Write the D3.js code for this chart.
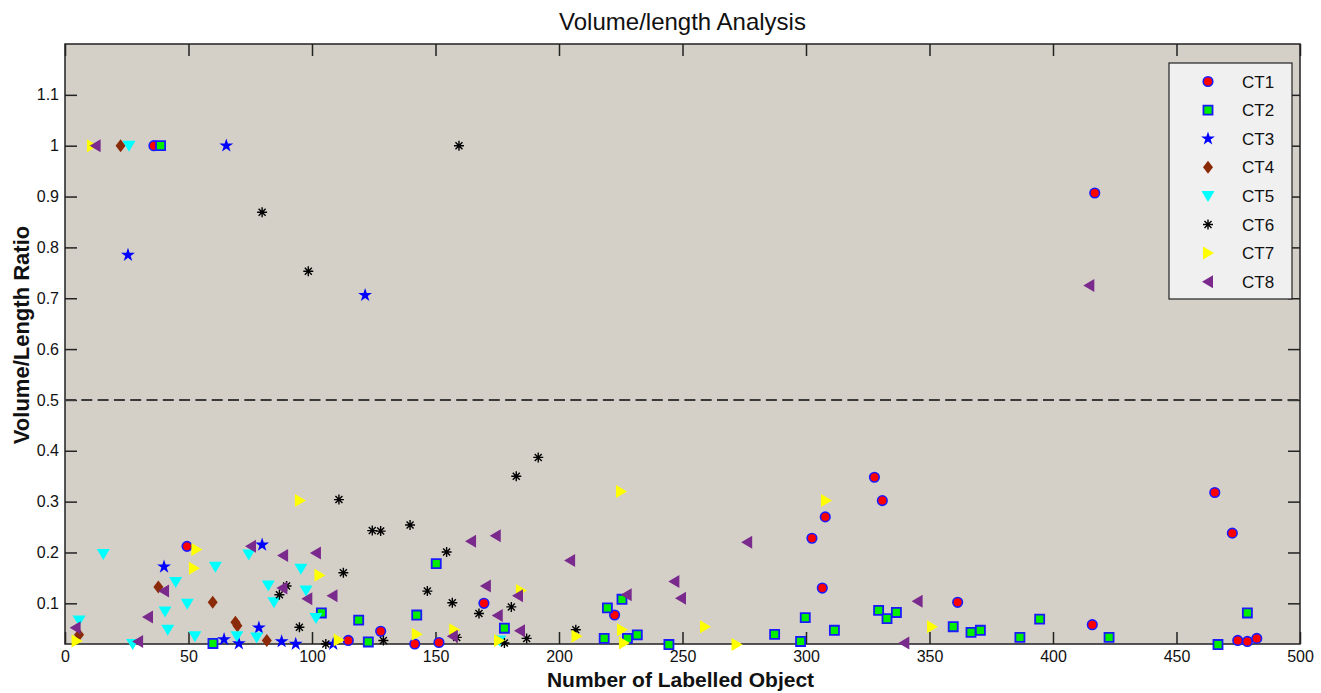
<!DOCTYPE html>
<html>
<head>
<meta charset="utf-8">
<script src="https://cdn.jsdelivr.net/npm/d3@7"></script>
<style>
    body { margin: 0; background: #fff; }
    text { font-family: "Liberation Sans", Arial, sans-serif; fill: #111; }
    .tick text { font-size: 16px; }
    .tick line { stroke: #222; stroke-width: 1.5; }
</style>
</head>
<body>
<div id="chart"></div>
<script>
// [number of labelled objects, volume/length ratio]
const ct1 = [[36, 1.0], [49.4, 0.212], [114.7, 0.027], [127.8, 0.045], [141.6, 0.02], [151.4, 0.023], [169.6, 0.1],
    [222.5, 0.077], [302.4, 0.228], [306.6, 0.13], [307.8, 0.27], [327.7, 0.348], [330.9, 0.302], [361.4, 0.102],
    [415.9, 0.058], [416.9, 0.907], [465.5, 0.318], [472.6, 0.238], [474.8, 0.027], [478.7, 0.025], [482.5, 0.031]];
const ct2 = [[38.7, 1.0], [59.9, 0.021], [103.8, 0.081], [118.9, 0.067], [122.8, 0.024], [142.4, 0.077], [150.3, 0.178],
    [177.9, 0.051], [218.3, 0.031], [219.6, 0.091], [225.5, 0.108], [227.7, 0.031], [231.7, 0.038], [244.5, 0.019],
    [287.3, 0.039], [297.8, 0.025], [299.7, 0.072], [311.5, 0.047], [329.4, 0.086], [332.8, 0.07], [336.6, 0.082],
    [359.6, 0.054], [366.8, 0.043], [370.6, 0.047], [386.6, 0.033], [394.6, 0.069], [422.7, 0.033], [466.8, 0.019],
    [478.7, 0.081]];
const ct3 = [[25.5, 0.785], [40.1, 0.172], [64.4, 0.029], [65.3, 1.0], [70.4, 0.021], [78.5, 0.052], [79.8, 0.215],
    [87.7, 0.025], [93.4, 0.02], [108.6, 0.02], [121.5, 0.706]];
const ct4 = [[5.7, 0.038], [22.5, 1.0], [37.8, 0.132], [59.8, 0.102], [69, 0.063], [69.8, 0.056], [81.7, 0.027]];
const ct5 = [[5.7, 0.066], [15.5, 0.197], [25.9, 1.0], [27.4, 0.02], [40.5, 0.084], [41.6, 0.048], [44.8, 0.142],
    [49.5, 0.099], [52.6, 0.035], [60.9, 0.172], [69.6, 0.035], [74.4, 0.196], [77.6, 0.033], [82.3, 0.135],
    [84.6, 0.102], [95.5, 0.168], [97.6, 0.125], [101.6, 0.071], [176, 0.027]];
const ct6 = [[79.8, 0.869], [86.8, 0.117], [89.7, 0.134], [94.9, 0.053], [98.5, 0.753], [105.6, 0.02], [110.9, 0.304],
    [112.7, 0.16], [124.4, 0.243], [127.8, 0.242], [128.9, 0.027], [139.7, 0.254], [146.7, 0.124], [154.5, 0.201],
    [156.8, 0.101], [158.6, 0.033], [159.5, 1.0], [167.6, 0.08], [177.9, 0.022], [180.7, 0.093], [182.7, 0.35],
    [186.9, 0.031], [191.6, 0.387], [206.8, 0.048]];
const ct7 = [[4.7, 0.026], [10.9, 1.0], [52.2, 0.169], [53.2, 0.206], [95.1, 0.302], [103, 0.155], [110.8, 0.028],
    [142.4, 0.039], [157.6, 0.048], [175.7, 0.027], [184.6, 0.125], [207.1, 0.035], [225.1, 0.32], [225.5, 0.048],
    [226.3, 0.022], [259.1, 0.054], [271.9, 0.019], [308.1, 0.302], [351, 0.054]];
const ct8 = [[4.3, 0.052], [12.4, 1.0], [29.6, 0.025], [33.6, 0.073], [40.1, 0.124], [75.3, 0.212], [88, 0.13],
    [88.3, 0.194], [98.1, 0.109], [101.6, 0.199], [108.3, 0.115], [157, 0.035], [164.4, 0.222], [170.4, 0.134],
    [174.4, 0.233], [175.2, 0.076], [183.4, 0.115], [184.2, 0.046], [204.5, 0.184], [227.4, 0.117], [246.7, 0.143],
    [249.4, 0.11], [276.2, 0.22], [339.8, 0.022], [345.2, 0.104], [414.7, 0.725]];

const seriesNames = ['CT1', 'CT2', 'CT3', 'CT4', 'CT5', 'CT6', 'CT7', 'CT8'];
const xTicks = [0, 50, 100, 150, 200, 250, 300, 350, 400, 450, 500];
const yTicks = [0.1, 0.2, 0.3, 0.4, 0.5, 0.6, 0.7, 0.8, 0.9, 1, 1.1];
const threshold = 0.5;

const seriesData = [ct1, ct2, ct3, ct4, ct5, ct6, ct7, ct8];

// marker look for each series, MATLAB style
const markers = [
    { path: d3.symbol(d3.symbolCircle, 72)(), fill: '#ff0000', stroke: '#1a1aff', sw: 1.6 },
    { path: d3.symbol(d3.symbolSquare, 82)(), fill: '#00ee00', stroke: '#1a1aff', sw: 1.8 },
    { path: d3.symbol(d3.symbolStar, 60)(), fill: '#0000ff', stroke: 'none', sw: 0 },
    { path: 'M0,-6.5L5,0L0,6.5L-5,0Z', fill: '#8b2a08', stroke: 'none', sw: 0 },
    { path: 'M-6.5,-5L6.5,-5L0,6Z', fill: '#00ffff', stroke: 'none', sw: 0 },
    { path: 'M-5,0H5M0,-5V5M-3.5,-3.5L3.5,3.5M-3.5,3.5L3.5,-3.5', fill: 'none', stroke: '#000', sw: 1.4 },
    { path: 'M-5,-6.5L6,0L-5,6.5Z', fill: '#ffff00', stroke: 'none', sw: 0 },
    { path: 'M5,-6.5L-6,0L5,6.5Z', fill: '#7a2a8c', stroke: 'none', sw: 0 }
];

function createScatter(chartId) {
    const width = 1321, height = 693, margin = { top: 44, right: 21, bottom: 49, left: 65 };

    const svg = d3.select(`#${chartId}`)
        .append('svg')
        .attr('width', width)
        .attr('height', height);

    const x = d3.scaleLinear()
        .domain([0, 500])
        .range([margin.left, width - margin.right]);

    const y = d3.scaleLinear()
        .domain([0.02, 1.2])
        .range([height - margin.bottom, margin.top]);

    svg.append('rect')
        .attr('x', margin.left)
        .attr('y', margin.top)
        .attr('width', x(500) - x(0))
        .attr('height', y(0.02) - y(1.2))
        .attr('fill', '#d4d0c8');

    // inward ticks on all four sides
    svg.append('g')
        .attr('transform', `translate(0,${height - margin.bottom})`)
        .call(d3.axisBottom(x).tickValues(xTicks).tickSizeInner(-12).tickSizeOuter(0).tickPadding(7))
        .call(g => g.select('.domain').remove());

    svg.append('g')
        .attr('transform', `translate(0,${margin.top})`)
        .call(d3.axisTop(x).tickValues(xTicks).tickSizeInner(-12).tickSizeOuter(0).tickFormat(''))
        .call(g => g.select('.domain').remove());

    svg.append('g')
        .attr('transform', `translate(${margin.left},0)`)
        .call(d3.axisLeft(y).tickValues(yTicks).tickSizeInner(-12).tickSizeOuter(0).tickPadding(6)
            .tickFormat(d3.format('~g')))
        .call(g => g.select('.domain').remove());

    svg.append('g')
        .attr('transform', `translate(${width - margin.right},0)`)
        .call(d3.axisRight(y).tickValues(yTicks).tickSizeInner(-12).tickSizeOuter(0).tickFormat(''))
        .call(g => g.select('.domain').remove());

    svg.append('rect')
        .attr('x', margin.left)
        .attr('y', margin.top)
        .attr('width', x(500) - x(0))
        .attr('height', y(0.02) - y(1.2))
        .attr('fill', 'none')
        .attr('stroke', '#222')
        .attr('stroke-width', 1.5);

    svg.append('line')
        .attr('x1', x(0))
        .attr('x2', x(500))
        .attr('y1', y(threshold))
        .attr('y2', y(threshold))
        .attr('stroke', '#3a3a3a')
        .attr('stroke-width', 2)
        .attr('stroke-dasharray', '11,5.3');

    seriesData.forEach((data, i) => {
        const m = markers[i];
        svg.append('g')
            .selectAll('path')
            .data(data)
            .join('path')
            .attr('transform', d => `translate(${x(d[0])},${y(d[1])})`)
            .attr('d', m.path)
            .attr('fill', m.fill)
            .attr('stroke', m.stroke)
            .attr('stroke-width', m.sw);
    });

    // legend
    const legend = svg.append('g').attr('transform', 'translate(1169,63)');
    legend.append('rect')
        .attr('width', 123)
        .attr('height', 236)
        .attr('fill', '#f0f0f0')
        .attr('stroke', '#222')
        .attr('stroke-width', 1.2);

    const rows = legend.selectAll('g')
        .data(seriesNames)
        .join('g')
        .attr('transform', (d, i) => `translate(0,${18.5 + i * 28.6})`);

    rows.append('path')
        .attr('transform', 'translate(39,0)')
        .attr('d', (d, i) => markers[i].path)
        .attr('fill', (d, i) => markers[i].fill)
        .attr('stroke', (d, i) => markers[i].stroke)
        .attr('stroke-width', (d, i) => markers[i].sw);

    rows.append('text')
        .attr('x', 73)
        .attr('dy', '0.36em')
        .attr('font-size', 17)
        .text(d => d);

    svg.append('text')
        .attr('x', x(250))
        .attr('y', 30)
        .attr('text-anchor', 'middle')
        .attr('font-size', 24)
        .text('Volume/length Analysis');

    svg.append('text')
        .attr('x', x(250) - 2)
        .attr('y', 687)
        .attr('text-anchor', 'middle')
        .attr('font-size', 21)
        .attr('font-weight', 'bold')
        .text('Number of Labelled Object');

    svg.append('text')
        .attr('transform', `translate(29,335) rotate(-90)`)
        .attr('text-anchor', 'middle')
        .attr('font-size', 22)
        .attr('font-weight', 'bold')
        .text('Volume/Length Ratio');
}

createScatter('chart');
</script>
</body>
</html>
